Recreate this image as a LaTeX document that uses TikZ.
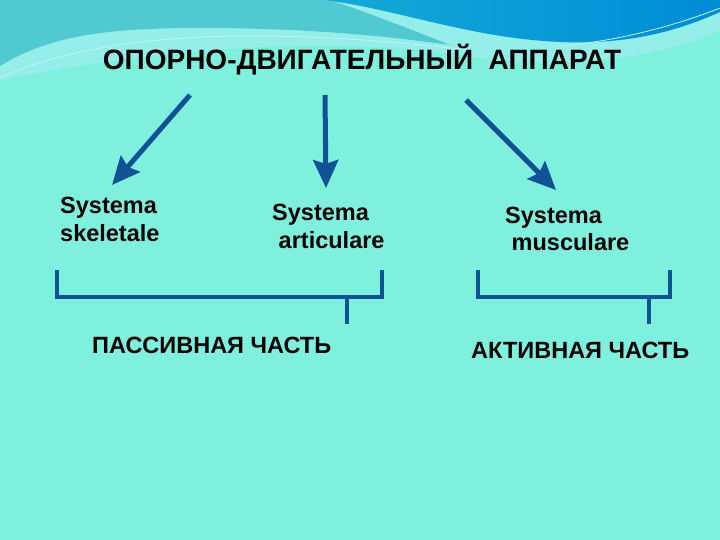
\documentclass[tikz,border=0pt]{standalone}
\usepackage{fontspec}
\setmainfont{Liberation Sans}
\usepackage{tikz}
\usetikzlibrary{arrows.meta}

\definecolor{bgaqua}{RGB}{128,240,222}
\definecolor{topteal}{RGB}{80,202,208}
\definecolor{palestripe}{RGB}{150,238,235}
\definecolor{waveblue}{RGB}{20,170,215}
\definecolor{wavedeep}{RGB}{0,140,215}
\definecolor{arrowblue}{RGB}{16,82,150}

\begin{document}
\begin{tikzpicture}[x=1pt, y=-1pt,
  title/.style={font=\bfseries\fontsize{28}{32}\selectfont, inner sep=0pt, anchor=base},
  label/.style={font=\bfseries\fontsize{23.5}{28}\selectfont, align=left, anchor=base west, inner sep=0pt},
  part/.style={font=\bfseries\fontsize{23.5}{28}\selectfont, anchor=base west, inner sep=0pt},
  arrow/.style={-{Stealth[length=28pt,width=25pt,inset=4pt]}, line width=5pt, arrowblue},
  bracket/.style={line width=3.5pt, arrowblue},
]
% background
\fill[bgaqua] (0,0) rectangle (720,540);
\useasboundingbox (0,0) rectangle (720,540);
% top band
\fill[palestripe] (0,0) -- (720,0) -- (720,30) .. controls (660,60) and (560,70) .. (460,55)
  .. controls (360,40) and (200,40) .. (0,80) -- cycle;
\fill[topteal] (0,66) .. controls (50,35) and (110,28) .. (200,28)
  .. controls (300,28) and (380,35) .. (450,45)
  .. controls (400,25) and (360,10) .. (330,0) -- (0,0) -- cycle;
\shade[left color=waveblue, right color=wavedeep] (325,0) .. controls (400,10) and (470,38) .. (560,42)
  .. controls (630,45) and (680,30) .. (720,12) -- (720,0) -- cycle;
\draw[palestripe!60!white, line width=0.8pt] (0,78) .. controls (60,50) and (150,35) .. (260,36)
  .. controls (360,37) and (420,45) .. (470,50);
\draw[palestripe!60!white, line width=0.8pt] (560,46) .. controls (630,40) and (690,20) .. (720,8);

% title
\node[title] (apparat) at (362,70) {ОПОРНО-ДВИГАТЕЛЬНЫЙ\ \ АППАРАТ};

% arrows
\coordinate (a1) at (190,95);
\coordinate (a2) at (325,95);
\coordinate (a3) at (466,100);
\coordinate (b1) at (112,185);
\coordinate (b2) at (326,188);
\coordinate (b3) at (556,190);
\draw[arrow] (a1) -- (b1);
\draw[arrow] (a2) -- (b2);
\draw[arrow] (a3) -- (b3);

% systems
\node[label] (skel) at (60,241) {Systema\\skeletale};
\node[label] (artic) at (272,248) {Systema\\\ articulare};
\node[label] (musc) at (505,251) {Systema\\\ musculare};

% brackets
\coordinate (p1) at (57,270);
\coordinate (p2) at (382,270);
\coordinate (p3) at (347,324);
\coordinate (q1) at (478,270);
\coordinate (q2) at (670,270);
\coordinate (q3) at (649,324);
\draw[bracket] (p1) -- (p1 |- 0,297) -- (p2 |- 0,297) -- (p2);
\draw[bracket] (p3 |- 0,297) -- (p3);
\draw[bracket] (q1) -- (q1 |- 0,297) -- (q2 |- 0,297) -- (q2);
\draw[bracket] (q3 |- 0,297) -- (q3);

% parts
\node[part] (passive) at (92,353) {ПАССИВНАЯ ЧАСТЬ};
\node[part] (active) at (471,358) {АКТИВНАЯ ЧАСТЬ};
\end{tikzpicture}
\end{document}
